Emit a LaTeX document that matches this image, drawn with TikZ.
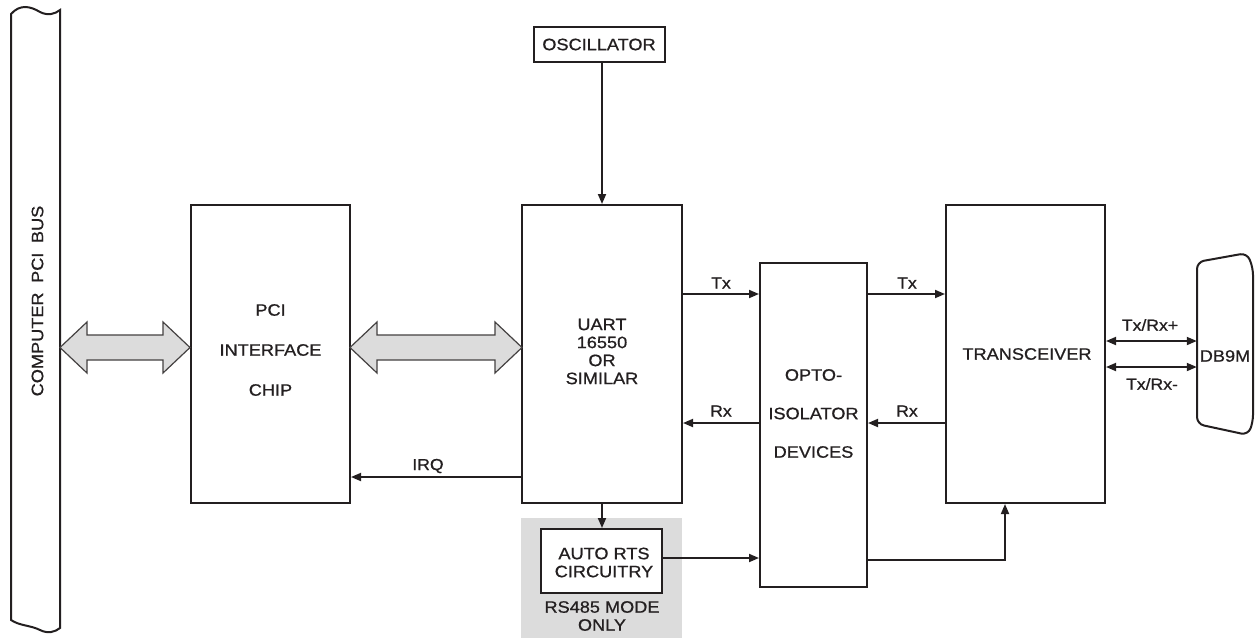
\documentclass[tikz,border=0pt]{standalone}
\usepackage{fontspec}
\setmainfont[FakeStretch=1.1,FakeBold=0.8]{Liberation Sans}
\usetikzlibrary{arrows.meta}
\definecolor{ink}{HTML}{231F20}
\definecolor{lightfill}{HTML}{DCDCDC}
\newcommand\bxfont{\fontsize{16.5pt}{19pt}\selectfont}
\newcommand\smfont{\fontsize{16pt}{18pt}\selectfont}
\begin{document}
\begin{tikzpicture}[x=1pt,y=-1pt,
  box/.style={draw=ink, line width=2pt, inner sep=0pt, fill=white},
  txt/.style={font=\bxfont, text=ink, inner sep=0pt, align=center},
  lbl/.style={font=\smfont, text=ink, inner sep=0pt},
  arr/.style={draw=ink, line width=1.8pt, -{Triangle[length=10pt,width=8pt]}},
  darr/.style={draw=ink, line width=1.8pt, {Triangle[length=10pt,width=8pt]}-{Triangle[length=10pt,width=8pt]}},
  fat/.style={draw=ink!85, line width=1.2pt, fill=lightfill, line join=miter}]
\useasboundingbox (0,0) rectangle (1257,638);

% computer bus
\draw[draw=ink, line width=2pt]
  (11,14) .. controls (20,4) and (30,6) .. (40,12) .. controls (48,16) and (55,14) .. (60,10)
  -- (60,628) .. controls (55,632) and (48,634) .. (40,630) .. controls (30,625) and (20,626) .. (11,620) -- cycle;
\node[font=\bxfont, text=ink, rotate=90, inner sep=0pt] (bus) at (37.5,301) {COMPUTER\hspace{0.58em}PCI\hspace{0.58em}BUS};

% shaded region
\fill[lightfill] (521,518) rectangle (682,638);

% boxes
\node[box, minimum width=159pt, minimum height=298pt] (pci) at (270.5,354) {};
\node[txt] (pcit) at (270.5,350) {PCI\\[21pt]INTERFACE\\[21pt]CHIP};
\node[box, minimum width=160pt, minimum height=298pt] (uart) at (602,354) {};
\node[txt] (uartt) at (602,351.5) {UART\\[-1pt]16550\\[-1pt]OR\\[-1pt]SIMILAR};
\node[box, minimum width=131pt, minimum height=35pt] (osc) at (599,44.5) {};
\node[txt] (osct) at (599,44.5) {OSCILLATOR};
\node[box, minimum width=107pt, minimum height=324pt] (opto) at (813.5,425) {};
\node[txt] (optot) at (813.5,413.5) {OPTO-\\[19.5pt]ISOLATOR\\[19.5pt]DEVICES};
\node[box, minimum width=159pt, minimum height=298pt] (trans) at (1025.5,354) {};
\node[txt] (transt) at (1027,354) {TRANSCEIVER};
\node[box, minimum width=121pt, minimum height=64pt] (rts) at (601.5,561) {};
\node[txt] (rtst) at (604,562.5) {AUTO RTS\\[-1pt]CIRCUITRY};
\node[txt] (mode) at (602,616) {RS485 MODE\\[-1pt]ONLY};

% DB9M connector
\draw[draw=ink, line width=2pt, rounded corners=7pt]
  (1197,340) -- (1197,262) -- (1247,253) -- (1253,268) -- (1253,422) -- (1248,435) -- (1197,424) -- cycle;
\node[txt, minimum width=56pt, minimum height=160pt] (db9) at (1225,356) {DB9M};

% fat bus arrows
\draw[fat] (60,347.5) -- (87,322) -- (87,335) -- (163,335) -- (163,322) -- (190,347.5)
  -- (163,373) -- (163,360) -- (87,360) -- (87,373) -- cycle;
\draw[fat] (350,347.5) -- (377,322) -- (377,335) -- (495,335) -- (495,322) -- (522,347.5)
  -- (495,373) -- (495,360) -- (377,360) -- (377,373) -- cycle;

% connectors
\draw[arr] (osc.south -| uart.north) -- (uart.north);
\draw[arr] (uart.east |- 0,294) -- (opto.west |- 0,294);
\draw[arr] (opto.east |- 0,294) -- (trans.west |- 0,294);
\draw[arr] (opto.west |- 0,423) -- (uart.east |- 0,423);
\draw[arr] (trans.west |- 0,423) -- (opto.east |- 0,423);
\draw[arr] (uart.west |- 0,477) -- (pci.east |- 0,477);
\draw[arr] (uart.south) -- (rts.north -| uart.south);
\draw[arr] (rts.east |- 0,558) -- (opto.west |- 0,558);
\draw[arr] (opto.east |- 0,560) -| (trans.south -| 1005,0);
\draw[darr] (trans.east |- 0,341) -- (db9.west |- 0,341);
\draw[darr] (trans.east |- 0,367) -- (db9.west |- 0,367);

% labels
\node[lbl] (tx1) at (721,283) {Tx};
\node[lbl] (tx2) at (907,283) {Tx};
\node[lbl] (rx1) at (721,411) {Rx};
\node[lbl] (rx2) at (907,411) {Rx};
\node[lbl] (irq) at (428,466) {IRQ};
\node[lbl] (tr1) at (1150,325) {Tx/Rx+};
\node[lbl] (tr2) at (1152,384) {Tx/Rx-};
\end{tikzpicture}
\end{document}
